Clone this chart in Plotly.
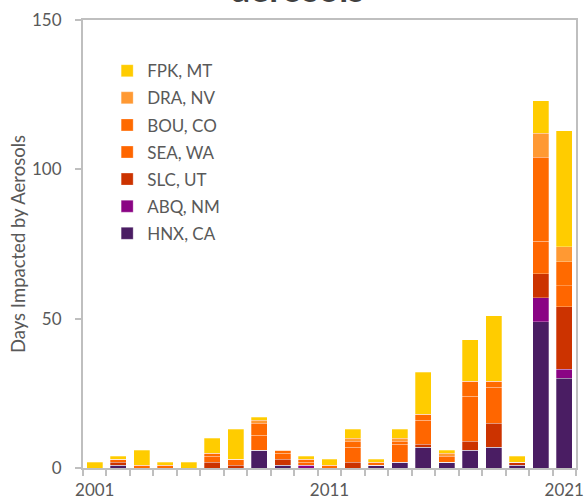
import plotly.graph_objects as go

years = list(range(2001, 2022))
HNX = [0, 1, 0, 0, 0, 0, 0, 6, 1, 0, 0, 0, 1, 2, 7, 2, 6, 7, 1, 49, 30]
ABQ = [0, 0, 0, 0, 0, 0, 0, 0, 0, 1, 0, 0, 0, 0, 0, 0, 0, 0, 0, 8, 3]
SLC = [0, 1, 0, 0, 0, 2, 1, 0, 2, 0, 0, 2, 0, 0, 1, 0, 3, 8, 1, 8, 21]
SEA = [0, 1, 0, 0, 0, 2, 2, 5, 2, 1, 0, 5, 0, 6, 8, 0, 15, 12, 0, 11, 7]
BOU = [0, 0, 1, 1, 0, 1, 0, 4, 1, 1, 1, 2, 1, 1, 2, 2, 5, 2, 0, 28, 8]
DRA = [0, 0, 0, 0, 0, 0, 0, 1, 0, 0, 0, 1, 0, 1, 0, 1, 0, 0, 0, 8, 5]
FPK = [2, 1, 5, 1, 2, 5, 10, 1, 0, 1, 2, 3, 1, 3, 14, 1, 14, 22, 2, 11, 39]

series = [
    ("HNX, CA", HNX, "#4A1D63"),
    ("ABQ, NM", ABQ, "#8A0484"),
    ("SLC, UT", SLC, "#CC3300"),
    ("SEA, WA", SEA, "#FF6600"),
    ("BOU, CO", BOU, "#FF6A00"),
    ("DRA, NV", DRA, "#FF9933"),
    ("FPK, MT", FPK, "#FFCC00"),
]

FONT = "Lato"
GREY = "#595959"
AXIS = "#BFBFBF"

fig = go.Figure()
n = len(series)
for i, (name, vals, col) in enumerate(series):
    fig.add_trace(go.Bar(
        x=years, y=vals, name=name, legendgroup=name, legendrank=n - i,
        marker=dict(color=col, line=dict(color="rgba(255,255,255,0.35)", width=0.8)),
    ))

fig.update_layout(
    template="none",
    barmode="stack",
    bargap=0.32,
    width=584, height=501,
    margin=dict(l=83, r=8, t=20, b=33, autoexpand=False),
    paper_bgcolor="white", plot_bgcolor="white",
    font=dict(family=FONT, color=GREY, size=17),
    title=dict(text="<b>aerosols</b>", x=0.51, xanchor="center",
               y=0.997, yref="container", yanchor="bottom",
               font=dict(size=36, color="#404040", family=FONT)),
    showlegend=True,
    legend=dict(x=0.049, y=0.926, xanchor="left", yanchor="top",
                traceorder="grouped", tracegroupgap=2,
                font=dict(size=17, color=GREY, family=FONT),
                bgcolor="rgba(0,0,0,0)", borderwidth=0),
)
fig.update_xaxes(
    automargin=False,
    range=[2000.5, 2021.5],
    tickmode="array", tickvals=[2001, 2011, 2021], ticktext=["2001", "2011", "2021"],
    ticks="", showgrid=False, zeroline=False, ticklabelstandoff=6,
    showline=True, linecolor=AXIS, linewidth=2, mirror=True,
    minor=dict(tickmode="linear", tick0=2000.5, dtick=1, ticks="outside",
               ticklen=6, tickcolor=AXIS, tickwidth=2, showgrid=False),
    tickfont=dict(size=17, color=GREY, family=FONT),
)
fig.update_yaxes(
    automargin=False,
    range=[0, 150], dtick=50, ticks="outside", ticklen=6, tickcolor=AXIS, tickwidth=2,
    showgrid=False, zeroline=False, ticklabelstandoff=10,
    showline=True, linecolor=AXIS, linewidth=2, mirror=True,
    title=dict(text="Days Impacted by Aerosols", font=dict(size=18.5, color=GREY, family=FONT), standoff=2),
    tickfont=dict(size=17, color=GREY, family=FONT),
)

fig.write_html("out.html", config={"displayModeBar": False},
               post_script="document.body.style.margin='0';")
